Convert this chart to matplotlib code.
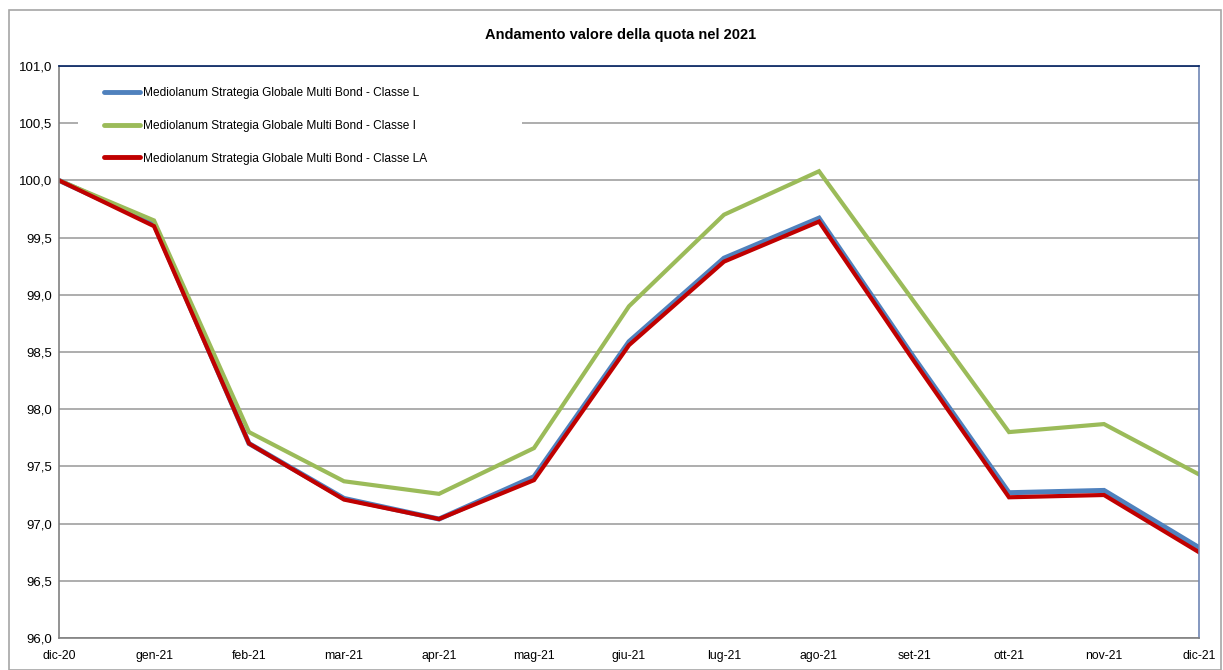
import matplotlib.pyplot as plt
from matplotlib.patches import Rectangle
from matplotlib.ticker import FuncFormatter

plt.rcParams['font.family'] = ['Liberation Sans', 'DejaVu Sans']

# Data
mesi = ['dic-20', 'gen-21', 'feb-21', 'mar-21', 'apr-21', 'mag-21', 'giu-21',
        'lug-21', 'ago-21', 'set-21', 'ott-21', 'nov-21', 'dic-21']
classe_l = [100.0, 99.62, 97.70, 97.22, 97.04, 97.41, 98.59, 99.32, 99.67,
            98.45, 97.27, 97.29, 96.79]
classe_i = [100.0, 99.65, 97.80, 97.37, 97.26, 97.66, 98.90, 99.70, 100.08,
            98.94, 97.80, 97.87, 97.43]
classe_la = [100.0, 99.60, 97.70, 97.21, 97.04, 97.38, 98.56, 99.29, 99.64,
             98.42, 97.23, 97.25, 96.75]
nomi = ['Mediolanum Strategia Globale Multi Bond - Classe L',
        'Mediolanum Strategia Globale Multi Bond - Classe I',
        'Mediolanum Strategia Globale Multi Bond - Classe LA']

W, H = 1223, 670
fig = plt.figure(figsize=(W / 100, H / 100), dpi=100)
fig.patches.append(Rectangle((9 / W, 0), 1212 / W, 1 - 10 / H,
                             transform=fig.transFigure, fill=False,
                             edgecolor='#A6A6A6', linewidth=1.2))
ax = fig.add_axes([59 / W, 1 - 638 / H, 1140 / W, 572 / H])

x = range(len(mesi))
ax.plot(x, classe_l, color='#4F81BD', lw=3.6, label=nomi[0], solid_joinstyle='miter')
ax.plot(x, classe_i, color='#9BBB59', lw=3.0, label=nomi[1], solid_joinstyle='miter')
ax.plot(x, classe_la, color='#C00000', lw=3.0, label=nomi[2], solid_joinstyle='miter')

ax.set_xlim(0, len(mesi) - 1)
ax.set_ylim(96, 101)
ax.set_yticks([96 + 0.5 * i for i in range(11)])
ax.yaxis.set_major_formatter(FuncFormatter(lambda v, p: f'{v:.1f}'.replace('.', ',')))
ax.set_xticks(list(x))
ax.set_xticklabels(mesi)
ax.tick_params(axis='y', length=0, pad=5, labelsize=9.5)
ax.tick_params(axis='x', length=0, pad=15, labelsize=8.8)
for lbl in ax.get_xticklabels():
    lbl.set_va('baseline')
ax.grid(axis='y', color='#A0A0A0', lw=1.2)
ax.set_axisbelow(True)

ax.spines['left'].set_color('#808080')
ax.spines['bottom'].set_color('#808080')
ax.spines['top'].set_color('#002060')
ax.spines['right'].set_color('#6F86B5')
for s in ax.spines.values():
    s.set_linewidth(1.2)

fig.text(621 / W, 1 - 35 / H, 'Andamento valore della quota nel 2021',
         ha='center', va='center', fontsize=10.5, fontweight='bold')

# white legend area (covers the gridline as in the original)
ax.add_patch(Rectangle((19 / 1140, 1 - 104 / 572), 444 / 1140, 96 / 572,
                       transform=ax.transAxes, facecolor='white',
                       edgecolor='none', zorder=1.5))

leg = ax.legend(loc='upper left', bbox_to_anchor=(45 / 1140, 1 - 21.5 / 572),
                fontsize=8.6, handlelength=3.0, handletextpad=0.25,
                labelspacing=1.72, borderpad=0, borderaxespad=0,
                frameon=False)
for ln in leg.get_lines():
    ln.set_linewidth(3.5)
    ln.set_solid_capstyle('round')

fig.savefig('out.png', dpi=100)
